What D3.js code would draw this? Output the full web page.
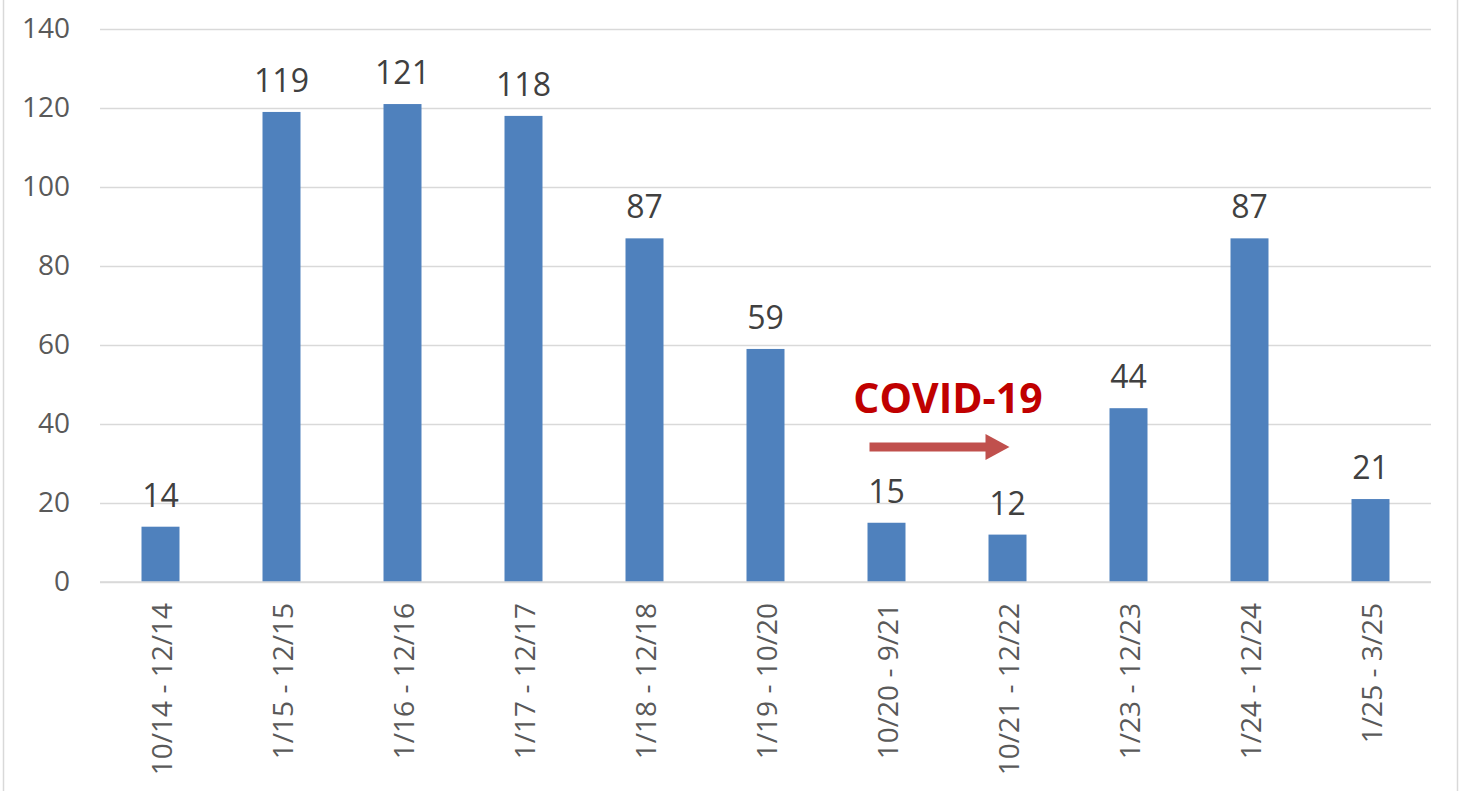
<!DOCTYPE html>
<html>
<head>
<meta charset="utf-8">
<script src="https://cdn.jsdelivr.net/npm/d3@7"></script>
<style>
  html, body { margin: 0; padding: 0; background: #fff; }
  svg { display: block; }
</style>
</head>
<body>
<svg id="chart" width="1462" height="791"></svg>
<script>
// chart data
const categories = ["10/14 - 12/14", "1/15 - 12/15", "1/16 - 12/16", "1/17 - 12/17", "1/18 - 12/18",
  "1/19 - 10/20", "10/20 - 9/21", "10/21 - 12/22", "1/23 - 12/23", "1/24 - 12/24", "1/25 - 3/25"];
const values = [14, 119, 121, 118, 87, 59, 15, 12, 44, 87, 21];
const yTicks = [0, 20, 40, 60, 80, 100, 120, 140];
const noteText = "COVID-19";

const holder = {
  width: 1462,
  height: 791,
  left: 100,
  right: 1431,
  top: 29,
  bottom: 582,
  barColor: "#4F81BD",
  gridColor: "#D9D9D9",
  noteColor: "#C00000",
  arrowColor: "#C0504D"
};

function start() {
  const svg = d3.select("#chart");
  const x = d3.scaleBand().domain(categories)
    .range([holder.left, holder.right])
    .paddingInner(0.686).paddingOuter(0.343);
  const y = d3.scaleLinear().domain([0, 140]).range([holder.bottom, holder.top]);

  // outer chart border (left/right edges visible)
  svg.append("rect")
    .attr("x", 3.5).attr("y", -2)
    .attr("width", 1454).attr("height", holder.height + 4)
    .attr("fill", "none").attr("stroke", "#D9D9D9").attr("stroke-width", 1.5);

  // y axis: gridlines + labels
  const yAxis = d3.axisLeft(y).tickValues(yTicks)
    .tickSize(-(holder.right - holder.left)).tickPadding(30);
  const gy = svg.append("g").attr("transform", "translate(" + holder.left + ",0)").call(yAxis);
  gy.select(".domain").remove();
  gy.selectAll(".tick line").attr("stroke", holder.gridColor).attr("stroke-width", 1.5);
  gy.selectAll(".tick text")
    .attr("fill", "#595959")
    .style("font-family", "'Open Sans', sans-serif")
    .style("font-size", "28px");

  // bars
  svg.append("g").selectAll("rect")
    .data(values)
    .enter()
    .append("rect")
    .attr("x", (d, i) => x(categories[i]))
    .attr("y", d => y(d))
    .attr("width", x.bandwidth())
    .attr("height", d => y(0) - y(d))
    .attr("fill", holder.barColor);

  // data labels
  svg.append("g").selectAll("text")
    .data(values)
    .enter()
    .append("text")
    .attr("x", (d, i) => x(categories[i]) + x.bandwidth() / 2)
    .attr("y", d => y(d) - 20)
    .attr("text-anchor", "middle")
    .attr("fill", "#404040")
    .style("font-family", "'Open Sans', sans-serif")
    .style("font-size", "32px")
    .text(d => d);

  // x axis labels, rotated
  const xAxis = d3.axisBottom(x).tickSize(0).tickPadding(0);
  const gx = svg.append("g").attr("transform", "translate(0," + holder.bottom + ")").call(xAxis);
  gx.select(".domain").attr("stroke", holder.gridColor).attr("stroke-width", 1.5)
    .attr("d", "M" + holder.left + ",0H" + holder.right);
  gx.selectAll(".tick text")
    .attr("transform", "rotate(-90)")
    .attr("x", -21).attr("y", 1).attr("dy", "0.36em")
    .attr("text-anchor", "end")
    .attr("fill", "#595959")
    .style("font-family", "'Open Sans', sans-serif")
    .style("font-size", "28px");

  // COVID-19 annotation
  const c1 = x(categories[6]) + x.bandwidth() / 2;
  const c2 = x(categories[7]) + x.bandwidth() / 2;
  svg.append("text")
    .attr("x", (c1 + c2) / 2 + 1)
    .attr("y", y(42.8))
    .attr("text-anchor", "middle")
    .attr("fill", holder.noteColor)
    .style("font-family", "'Open Sans', sans-serif")
    .style("font-weight", "bold")
    .style("font-size", "41px")
    .text(noteText);

  const ay = y(34.2);
  const ax0 = c1 - 17, ax1 = c2 + 2;
  svg.append("line")
    .attr("x1", ax0).attr("x2", ax1 - 22)
    .attr("y1", ay).attr("y2", ay)
    .attr("stroke", holder.arrowColor).attr("stroke-width", 9);
  svg.append("path")
    .attr("d", "M" + (ax1 - 24) + "," + (ay - 13) + "L" + ax1 + "," + ay + "L" + (ax1 - 24) + "," + (ay + 13) + "Z")
    .attr("fill", holder.arrowColor);
}

start();
</script>
</body>
</html>
